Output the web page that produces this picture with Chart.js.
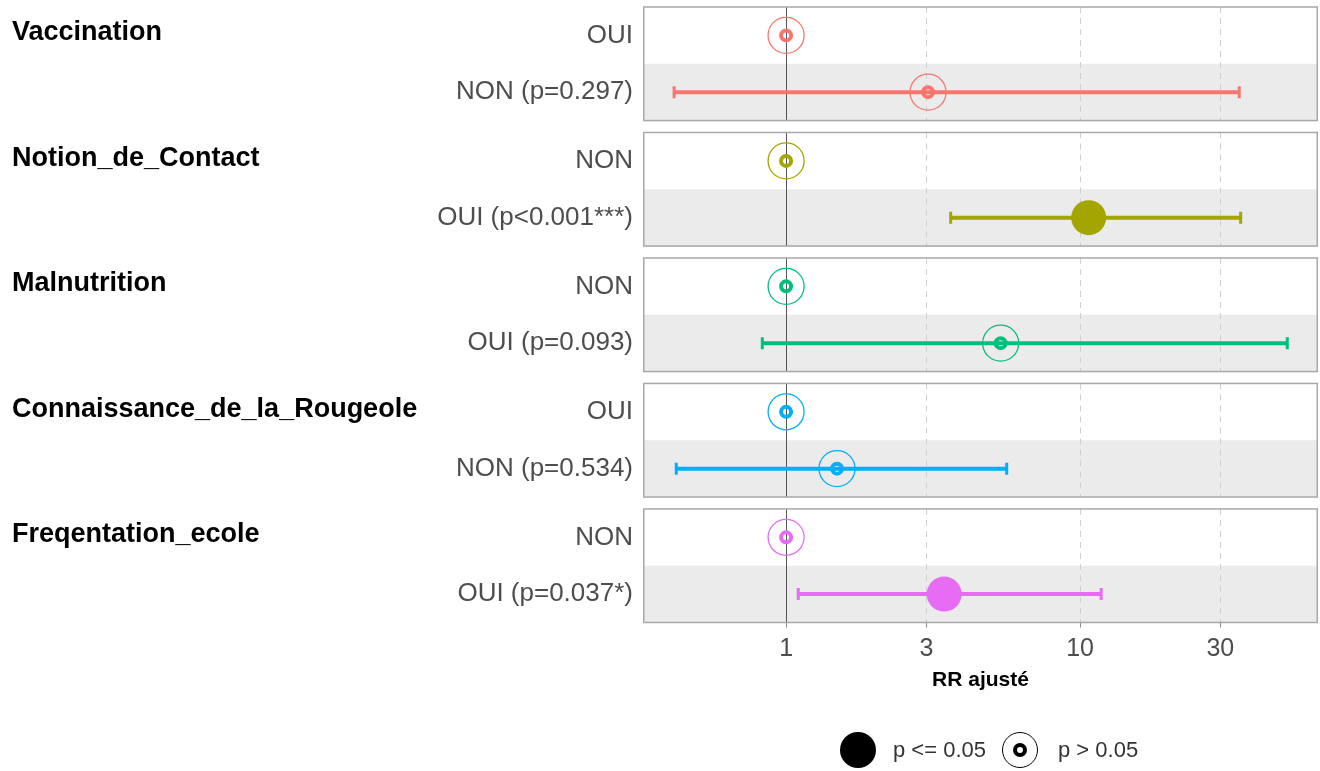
<!DOCTYPE html>
<html>
<head>
<meta charset="utf-8">
<title>RR ajusté</title>
<script src="https://cdn.jsdelivr.net/npm/chart.js@4.4.1/dist/chart.umd.min.js"></script>
<style>
  html, body { margin: 0; padding: 0; background: #fff; }
  #wrap { position: relative; width: 1320px; height: 771px; }
  #legend { position: absolute; left: 0; top: 731px; width: 1320px; height: 38px;
    font-family: "Liberation Sans", Arial, sans-serif; font-size: 22px; color: #333; }
  #legend span { position: absolute; top: 0; line-height: 38px; }
  .dot { position: absolute; top: 1px; width: 36px; height: 36px; border-radius: 50%; background: #000; }
  .ring { position: absolute; top: 1px; width: 36px; height: 36px; border-radius: 50%;
    border: 1.5px solid #000; box-sizing: border-box; }
  .ring::after { content: ""; position: absolute; left: 50%; top: 50%; width: 14px; height: 14px;
    margin: -7px 0 0 -7px; border: 4px solid #000; border-radius: 50%; box-sizing: border-box; }
</style>
</head>
<body>
<div id="wrap">
  <canvas id="forestChart"></canvas>
  <div id="legend">
    <div class="dot" style="left:840px"></div><span style="left:893px">p &lt;= 0.05</span>
    <div class="ring" style="left:1002px"></div><span style="left:1058px">p &gt; 0.05</span>
  </div>
</div>
<script>
// ===== DATA =====
const groups = ["Vaccination", "Notion_de_Contact", "Malnutrition", "Connaissance_de_la_Rougeole", "Freqentation_ecole"];
const refLabels = ["OUI", "NON", "NON", "OUI", "NON"];
const cmpLabels = ["NON (p=0.297)", "OUI (p<0.001***)", "OUI (p=0.093)", "NON (p=0.534)", "OUI (p=0.037*)"];
const rrEst = [3.04, 10.7, 5.37, 1.49, 3.45];
const rrLow = [0.416, 3.63, 0.83, 0.423, 1.10];
const rrHigh = [34.8, 35.2, 50.7, 5.63, 11.8];
const pValues = [0.297, 0.0005, 0.093, 0.534, 0.037];
const colors = ["#F8766D", "#A3A500", "#00BF7D", "#00B0F6", "#E76BF3"];
const xTicks = [1, 3, 10, 30];
const xMin = 0.326, xMax = 64.5;

const FONT = '"Liberation Sans", Arial, sans-serif';
const step = 2.21;              // one panel (2 rows) + gap
const yMax = step * 4 + 2;

function refRow(i) { return i * step + 0.5; }
function cmpRow(i) { return i * step + 1.5; }

// row positions + labels for the y axis
let rowPos = [], rowLabels = [];
groups.forEach((g, i) => {
  rowPos.push(refRow(i), cmpRow(i));
  rowLabels.push(refLabels[i], cmpLabels[i]);
});

// ===== DATASETS =====
let datasets = [];

// confidence intervals
groups.forEach((g, i) => {
  datasets.push({
    type: "line",
    data: [{ x: rrLow[i], y: cmpRow(i) }, { x: rrHigh[i], y: cmpRow(i) }],
    borderColor: colors[i],
    borderWidth: 4,
    pointStyle: "line",
    pointRotation: 90,
    pointRadius: 6,
    pointBorderWidth: 3,
    pointBorderColor: colors[i],
    order: 3
  });
});

// hollow markers: reference rows + p > 0.05
let hollow = [], hollowColors = [];
let filled = [], filledColors = [];
groups.forEach((g, i) => {
  hollow.push({ x: 1, y: refRow(i) });
  hollowColors.push(colors[i]);
  if (pValues[i] > 0.05) {
    hollow.push({ x: rrEst[i], y: cmpRow(i) });
    hollowColors.push(colors[i]);
  } else {
    filled.push({ x: rrEst[i], y: cmpRow(i) });
    filledColors.push(colors[i]);
  }
});

datasets.push({
  type: "scatter", data: hollow, pointStyle: "circle", pointRadius: 18,
  pointBorderWidth: 1.3, pointBorderColor: hollowColors, pointBackgroundColor: "rgba(0,0,0,0)", order: 2
});
datasets.push({
  type: "scatter", data: hollow, pointStyle: "circle", pointRadius: 5,
  pointBorderWidth: 4, pointBorderColor: hollowColors, pointBackgroundColor: "rgba(0,0,0,0)", order: 1
});
datasets.push({
  type: "scatter", data: filled, pointStyle: "circle", pointRadius: 17.5,
  pointBorderWidth: 0, pointBackgroundColor: filledColors, order: 0
});

// ===== PANELS (facet backgrounds, grid, titles) =====
const panelPlugin = {
  id: "panels",
  beforeDatasetsDraw(chart) {
    const { ctx, chartArea, scales } = chart;
    const xs = scales.x, ys = scales.y;
    groups.forEach((g, i) => {
      const top = ys.getPixelForValue(i * step);
      const mid = ys.getPixelForValue(i * step + 1);
      const bot = ys.getPixelForValue(i * step + 2);
      ctx.save();
      ctx.fillStyle = "#ffffff";
      ctx.fillRect(chartArea.left, top, chartArea.width, mid - top);
      ctx.fillStyle = "#ebebeb";
      ctx.fillRect(chartArea.left, mid, chartArea.width, bot - mid);

      // dashed grid
      ctx.strokeStyle = "#cfcfcf";
      ctx.lineWidth = 1;
      ctx.setLineDash([6, 5]);
      xTicks.forEach(v => {
        if (v === 1) return;
        const px = Math.round(xs.getPixelForValue(v)) + 0.5;
        ctx.beginPath(); ctx.moveTo(px, top); ctx.lineTo(px, bot); ctx.stroke();
      });
      ctx.setLineDash([]);

      // reference line at RR = 1
      const p1 = Math.round(xs.getPixelForValue(1)) + 0.5;
      ctx.strokeStyle = "#555555";
      ctx.beginPath(); ctx.moveTo(p1, top); ctx.lineTo(p1, bot); ctx.stroke();

      // border
      ctx.strokeStyle = "#a8a8a8";
      ctx.lineWidth = 1.5;
      ctx.strokeRect(chartArea.left + 0.75, top, chartArea.width - 1.5, bot - top);

      // strip title
      ctx.fillStyle = "#000";
      ctx.font = "bold 27px " + FONT;
      ctx.textAlign = "left";
      ctx.textBaseline = "middle";
      ctx.fillText(g, 12, top + 26);
      ctx.restore();
    });
  }
};

new Chart(document.getElementById("forestChart"), {
  type: "scatter",
  data: { datasets: datasets },
  plugins: [panelPlugin],
  options: {
    responsive: true,
    maintainAspectRatio: false,
    animation: false,
    events: [],
    layout: { autoPadding: false, padding: { left: 0, right: 2, top: 7, bottom: 68.5 } },
    plugins: { legend: { display: false }, tooltip: { enabled: false } },
    scales: {
      x: {
        type: "logarithmic",
        bounds: "data",
        min: xMin,
        max: xMax,
        afterBuildTicks: s => { s.ticks = xTicks.map(v => ({ value: v })); },
        afterFit: s => { s.height = 80; s.paddingLeft = 0; s.paddingRight = 0; },
        ticks: {
          callback: v => String(v),
          font: { size: 25, family: FONT },
          color: "#4d4d4d",
          padding: 7,
          maxRotation: 0,
          autoSkip: false
        },
        grid: { drawOnChartArea: false, drawTicks: true, tickLength: 5, color: "#888" },
        border: { display: false },
        title: {
          display: true,
          text: "RR ajusté",
          font: { size: 21, weight: "bold", family: FONT },
          color: "#000",
          padding: { top: 2, bottom: 10 }
        }
      },
      y: {
        type: "linear",
        reverse: true,
        min: 0,
        max: yMax,
        afterBuildTicks: s => { s.ticks = rowPos.map(v => ({ value: v })); },
        afterFit: s => { s.width = 643; s.paddingTop = 0; s.paddingBottom = 0; },
        ticks: {
          callback: (v, idx) => rowLabels[idx],
          font: { size: 26, family: FONT },
          color: "#4d4d4d",
          padding: 10,
          autoSkip: false
        },
        grid: { display: false, drawTicks: false },
        border: { display: false }
      }
    }
  }
});
</script>
</body>
</html>
